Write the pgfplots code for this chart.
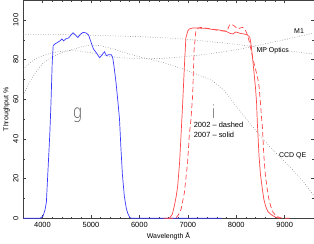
\documentclass[border=0pt]{standalone}
\usepackage{fontspec}
\setmainfont{Liberation Sans}
\IfFontExistsTF{DejaVu Sans ExtraLight}{\newfontfamily\thinfont[FakeStretch=0.8]{DejaVu Sans ExtraLight}}{\newfontfamily\thinfont[FakeStretch=0.8]{Liberation Sans}}
\usepackage{pgfplots}
\pgfplotsset{compat=1.18}
\definecolor{gblue}{rgb}{0.22,0.22,1}
\definecolor{ired}{rgb}{1,0.27,0.27}
\definecolor{dotgray}{rgb}{0.45,0.45,0.45}
\begin{document}
\begin{tikzpicture}
\begin{axis}[
 scale only axis, width=291.6pt, height=218.7pt,
 xmin=3600, xmax=9600, ymin=0, ymax=110,
 xtick={4000,5000,6000,7000,8000,9000}, minor x tick num=4,
 ytick={0,20,40,60,80,100}, minor y tick num=1,
 tick align=inside, major tick length=3pt, minor tick length=1.6pt,
 axis line style={black!75, line width=0.5pt},
 every tick/.style={black!75, line width=0.4pt},
 tick label style={font=\fontsize{7.5}{8}\selectfont},
 /pgf/number format/assume math mode=true,
 /pgf/number format/set thousands separator={},
 yticklabel style={rotate=90, anchor=south},
 yticklabel shift=1.2pt, xticklabel shift=1pt,
 xlabel={Wavelength Å}, ylabel={Throughput \%},
 every axis x label/.style={at={(axis description cs:0.5,0)}, yshift=-18.3pt, anchor=center, font=\fontsize{7}{8}\selectfont},
 every axis y label/.style={at={(axis description cs:0,0.5)}, xshift=-16.6pt, rotate=90, anchor=center, font=\fontsize{7}{8}\selectfont},
 clip=false,
]
% dotted throughput curves
\addplot[dotgray, line width=0.5pt, dash pattern=on 0.6pt off 1.9pt] coordinates {
(3600,92.8) (4500,92.6) (5000,92.3) (5500,92.0) (6000,91.6) (6500,91.1) (7000,90.3) (7400,89.3) (7650,88.7) (8000,87.8) (8300,86.7) (8600,85.8) (9000,84.6) (9300,83.8) (9600,82.8)};
\addplot[dotgray, line width=0.5pt, dash pattern=on 0.6pt off 1.9pt] coordinates {
(3600,75) (3700,77.5) (3800,79.5) (3900,81) (4000,82) (4200,83.5) (4400,84.3) (4600,84.6) (4800,84.3) (5000,83.5) (5300,82) (5600,81) (6000,80.5) (6300,80.5) (6700,81) (7000,81.7) (7400,82.8) (7650,83.7) (8000,85) (8300,86.5) (8600,88) (9050,90.4) (9300,91.8) (9600,93.5)};
\addplot[dotgray, line width=0.5pt, dash pattern=on 0.6pt off 1.9pt] coordinates {
(3600,62) (3700,67) (3800,71.5) (3900,75) (4000,78) (4200,81.5) (4400,83.5) (4600,85) (4800,86.5) (5000,87.5) (5200,87) (5450,85.5) (5700,83.5) (6000,81.5) (6500,78.5) (7000,74.5) (7500,69.5) (7750,64.5) (8000,56.5) (8265,48.3) (8500,41.5) (8675,36.5) (9000,28.5) (9155,24.7) (9400,18) (9600,11.5)};
% g filter
\addplot[gblue, line width=0.7pt] coordinates {
(3600,0) (3950,0) (4010,1) (4050,4) (4080,8) (4115,25) (4150,42) (4175,58) (4200,78) (4220,87) (4260,88) (4310,88.7) (4360,89.5) (4400,90.5) (4435,89.5) (4480,90.5) (4540,91) (4590,92.5) (4630,93.6) (4680,92.5) (4730,91.2) (4780,92.8) (4840,93.8) (4900,93.5) (4950,92.5) (5000,89) (5050,85.5) (5110,83.5) (5180,81) (5230,82.5) (5280,84) (5320,82) (5360,82.5) (5420,82.5) (5450,81) (5480,76) (5520,68) (5560,58) (5590,50) (5620,35) (5650,22) (5690,11) (5730,5) (5760,2.5) (5800,0.5) (5830,0) (7700,0)};
% i filter 2007 solid
\addplot[ired, line width=0.7pt] coordinates {
(6500,0) (6620,0) (6680,2) (6720,6) (6760,11) (6790,16) (6830,28) (6860,42) (6890,56) (6930,77) (6960,91) (7000,94.5) (7030,95.5) (7100,96) (7170,96) (7370,95.8) (7500,95.3) (7650,95) (7800,94.2) (7870,93.3) (7930,93) (7990,94) (8100,93.2) (8160,93) (8230,92.5) (8280,91.3) (8310,87) (8340,80) (8370,72.7) (8400,65) (8420,58) (8435,48.3) (8470,31.5) (8500,22) (8540,14.6) (8570,9.5) (8605,6.2) (8650,3.5) (8710,2) (8810,0.5) (8900,0)};
% i filter 2002 dashed
\addplot[ired, line width=0.7pt, dash pattern=on 5pt off 3pt] coordinates {
(6600,0) (6750,0) (6800,1.5) (6860,4.5) (6930,13) (6995,28) (7030,41.6) (7065,50) (7100,62) (7130,85) (7165,94.5) (7220,96) (7270,96.3) (7350,96) (7500,95.5) (7650,94.6) (7750,94.5) (7820,95) (7860,97.5) (7900,98) (7960,97) (8030,95.5) (8080,96) (8130,96.3) (8180,95.5) (8230,92.5) (8270,89) (8300,85.5) (8350,80) (8400,75) (8440,71) (8470,66.8) (8500,58) (8525,50) (8540,46) (8570,31.5) (8600,22) (8640,14.6) (8670,10) (8710,6.2) (8760,3) (8810,1.5) (8880,0.5) (8950,0) (9100,0)};
% labels
\node[font=\thinfont\fontsize{19}{20}\selectfont, text=black!70, anchor=base, inner sep=0pt] at (axis cs:4719,50.4) {g};
\node[font=\thinfont\fontsize{18}{20}\selectfont, text=black!70, anchor=base, inner sep=0pt] at (axis cs:7532,50.3) {i};
\node[font=\fontsize{7.5}{8}\selectfont, anchor=west, inner sep=0pt] at (axis cs:7120,47) {2002 -- dashed};
\node[font=\fontsize{7.5}{8}\selectfont, anchor=west, inner sep=0pt] at (axis cs:7120,42.3) {2007 -- solid};
\node[font=\fontsize{7}{8}\selectfont, inner sep=0pt] at (axis cs:9297,94.4) {M1};
\node[font=\fontsize{7}{8}\selectfont, inner sep=0pt] at (axis cs:8752,84.3) {MP Optics};
\node[font=\fontsize{7}{8}\selectfont, inner sep=0pt] at (axis cs:9164,31.3) {CCD QE};
\end{axis}
\end{tikzpicture}
\end{document}
